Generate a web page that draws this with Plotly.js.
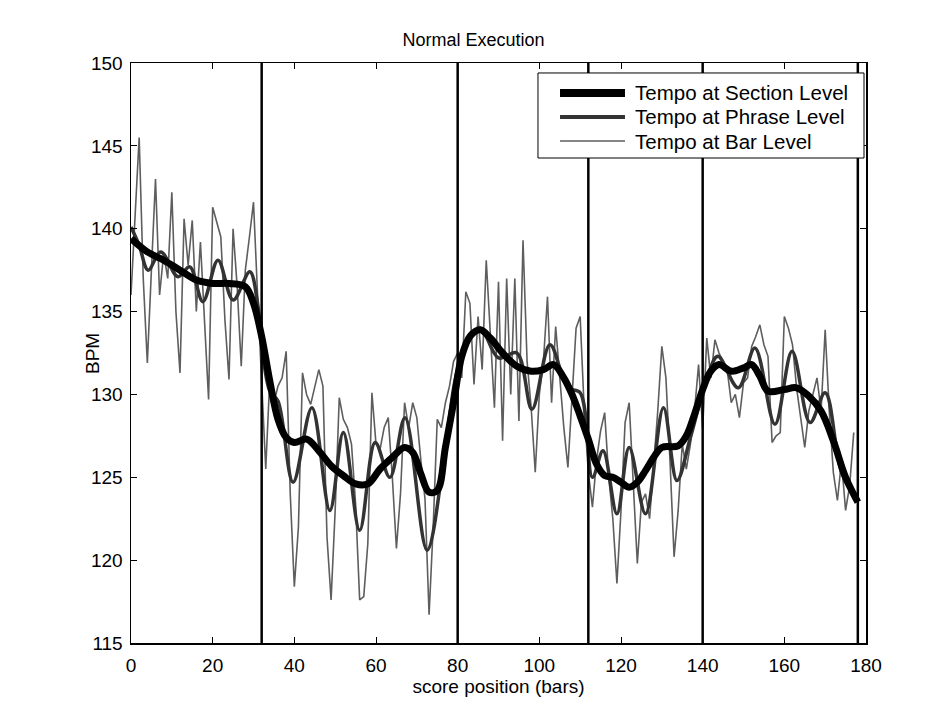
<!DOCTYPE html>
<html>
<head>
<meta charset="utf-8">
<script src="https://cdn.plot.ly/plotly-3.0.1.min.js"></script>
<style>html,body{margin:0;padding:0;background:#fff;}#chart{width:947px;height:715px;}</style>
</head>
<body>
<div id="chart"></div>
<script>
// Bar-level tempo, one value per bar (0..177)
const barBpm = [
136.0,140.5,145.5,137.0,131.9,137.5,143.0,136.0,138.5,137.0,
142.2,135.0,131.3,140.6,137.8,140.5,135.0,139.2,134.0,129.7,
141.3,140.4,139.5,134.5,130.9,140.0,136.5,131.7,137.5,139.5,
141.6,136.0,130.5,125.5,131.0,129.5,130.5,131.0,132.6,124.0,
118.4,122.0,131.3,130.0,129.4,130.5,131.5,130.5,121.4,117.6,
123.0,129.8,128.5,128.0,127.0,123.4,117.6,117.8,121.0,130.1,
127.0,126.7,128.0,128.6,125.0,120.7,124.0,129.5,128.0,129.5,
128.6,126.0,123.7,116.7,122.0,128.5,128.0,129.5,130.5,132.0,
132.5,131.0,136.2,135.5,130.6,134.7,131.5,138.1,134.0,129.2,
136.8,127.2,137.0,130.0,137.0,128.4,139.3,132.0,129.2,125.3,
130.0,132.0,135.9,129.5,134.1,131.0,128.0,125.6,130.0,134.0,
134.7,129.0,125.3,123.2,126.0,127.8,128.9,125.0,122.5,118.6,
123.0,128.3,129.5,125.0,119.8,123.5,124.0,122.5,125.5,129.0,
132.9,131.0,126.0,120.2,123.0,127.0,125.5,127.0,129.0,131.8,
127.9,133.4,131.0,133.3,132.5,132.0,131.5,129.5,130.0,128.6,
130.7,131.0,132.9,133.5,134.2,133.0,132.3,127.1,127.5,127.7,
134.7,134.0,133.0,130.4,128.5,126.8,129.0,130.0,131.0,129.0,
133.9,129.0,125.3,123.6,126.0,123.0,124.5,127.7
];
const barPos = barBpm.map((v, i) => i);

// Phrase-level tempo (read at turning points)
const phrasePos = [0,2,4.2,7.3,11.5,14.4,17.6,21.3,25,29.1,31,32,34,36,39.7,44.3,48.7,52,56,59.8,63.4,67.1,72.5,77,79.4,82,85.5,90,94.5,98.2,102.6,107,110,113,115.6,119,122,126,130.4,133.7,137,141,143.7,148.7,152.8,157.7,161.9,166.3,170,174,177.8];
const phraseBpm = [140.1,139.0,137.5,138.6,137.1,137.7,135.6,138.1,135.7,137.4,135.5,133.0,130.2,129.6,124.7,129.2,123.0,127.7,121.8,127.1,125.0,128.6,120.6,126.8,130.9,133.0,134.0,132.2,132.5,129.1,133.0,130.4,130.1,125.0,126.6,122.8,126.8,122.8,129.2,124.8,127.4,130.9,132.3,130.4,132.8,128.2,132.6,128.3,130.1,125.3,123.6];

// Section-level tempo
const sectionPos = [0,4,8,12,16,20,24,28,30,32,34,36,38,40,43,46,49,52,55,58,61,64,67,69,71,73,75,77,79,81,83,85.5,88,91,94.5,98,101,103.5,106,108,110,112,114,116,118,120,122,124,126,128,130,134,136,138,140,142,144,147,150,152,154,156,160,163,166,169,172,175,178];
const sectionBpm = [139.4,138.6,138.1,137.5,136.9,136.7,136.7,136.5,135.5,133.5,130.8,128.5,127.4,127.1,127.3,126.6,125.7,125.1,124.6,124.6,125.5,126.2,126.8,126.5,125.2,124.1,124.2,126.8,129.5,132.3,133.5,133.9,133.4,132.5,131.7,131.4,131.5,131.8,131.0,130.0,128.7,127.3,125.8,125.1,125.0,124.7,124.4,124.7,125.4,126.2,126.8,126.9,127.5,128.8,130.3,131.4,131.8,131.4,131.6,131.8,131.1,130.2,130.3,130.4,129.9,129.0,127.2,125.0,123.5];

// Section boundaries (bars)
const sectionBounds = [32, 80, 112, 140, 178];

const seriesNames = ['Tempo at Section Level', 'Tempo at Phrase Level', 'Tempo at Bar Level'];
const seriesColors = ['#000000', '#333333', '#5e5e5e'];
const seriesWidths = [7, 3.5, 1.6];
const legendWidths = [8, 4, 1.6];
const xTicks = [0,20,40,60,80,100,120,140,160,180];
const yTicks = [115,120,125,130,135,140,145,150];

const traces = [
  {x: barPos, y: barBpm, mode: 'lines', name: seriesNames[2], showlegend: false,
   line: {color: seriesColors[2], width: seriesWidths[2]}},
  {x: phrasePos, y: phraseBpm, mode: 'lines', name: seriesNames[1], showlegend: false,
   line: {color: seriesColors[1], width: seriesWidths[1], shape: 'spline', smoothing: 1}},
  {x: sectionPos, y: sectionBpm, mode: 'lines', name: seriesNames[0], showlegend: false,
   line: {color: seriesColors[0], width: seriesWidths[0], shape: 'spline', smoothing: 1}}
];

const shapes = sectionBounds.map(b => ({
  type: 'line', xref: 'x', yref: 'paper', x0: b, x1: b, y0: 0, y1: 1,
  line: {color: '#000', width: 2.5}, layer: 'above'
}));

// Legend box (drawn as shapes + annotations to match the reference look)
const lgBox = {x0: 0.5537, x1: 0.9973, y0: 0.8362, y1: 0.9828};
const lgRows = [0.9483, 0.9069, 0.8655];
const lgLineX = [0.5837, 0.6721];
const lgTextX = 0.6830;
shapes.push({type: 'rect', xref: 'paper', yref: 'paper', x0: lgBox.x0, x1: lgBox.x1, y0: lgBox.y0, y1: lgBox.y1,
  line: {color: '#000', width: 1}, fillcolor: '#fff', layer: 'above'});
const fontFam = '"Liberation Sans", Arial, Helvetica, sans-serif';
const annotations = [];
seriesNames.forEach((n, i) => {
  shapes.push({type: 'line', xref: 'paper', yref: 'paper', x0: lgLineX[0], x1: lgLineX[1], y0: lgRows[i], y1: lgRows[i],
    line: {color: seriesColors[i], width: legendWidths[i]}, layer: 'above'});
  annotations.push({xref: 'paper', yref: 'paper', x: lgTextX, y: lgRows[i], xanchor: 'left', yanchor: 'middle',
    text: n, showarrow: false, font: {family: fontFam, size: 20.5, color: '#000'}});
});
annotations.push({xref: 'paper', yref: 'paper', x: -0.0531, y: 0.5, xanchor: 'center', yanchor: 'middle',
  text: 'BPM', textangle: -90, showarrow: false, font: {family: fontFam, size: 19, color: '#000'}});

const layout = {
  width: 947, height: 715,
  margin: {l: 131, r: 81, t: 63, b: 72},
  paper_bgcolor: '#fff', plot_bgcolor: '#fff',
  font: {family: fontFam, size: 18, color: '#000'},
  title: {text: 'Normal Execution', font: {family: fontFam, size: 18, color: '#000'},
          x: 0.5, xanchor: 'center', y: 1 - 40/715, yanchor: 'middle'},
  xaxis: {range: [0, 180], tickvals: xTicks, ticktext: xTicks.map(String),
          ticks: 'inside', ticklen: 6, tickwidth: 1, tickcolor: '#000',
          showline: true, linecolor: '#000', linewidth: 1.5, mirror: 'ticks',
          showgrid: false, zeroline: false, ticklabelstandoff: 5,
          tickfont: {family: fontFam, size: 19, color: '#000'},
          title: {text: 'score position (bars)', font: {family: fontFam, size: 19, color: '#000'}, standoff: 4}},
  yaxis: {range: [115, 150], tickvals: yTicks, ticktext: yTicks.map(String),
          ticks: 'inside', ticklen: 6, tickwidth: 1, tickcolor: '#000',
          showline: true, linecolor: '#000', linewidth: 1.5, mirror: 'ticks',
          showgrid: false, zeroline: false, ticklabelstandoff: 3,
          tickfont: {family: fontFam, size: 19, color: '#000'}},
  shapes: shapes,
  annotations: annotations,
  showlegend: false
};

Plotly.newPlot('chart', traces, layout, {displayModeBar: false, staticPlot: true});
</script>
</body>
</html>
